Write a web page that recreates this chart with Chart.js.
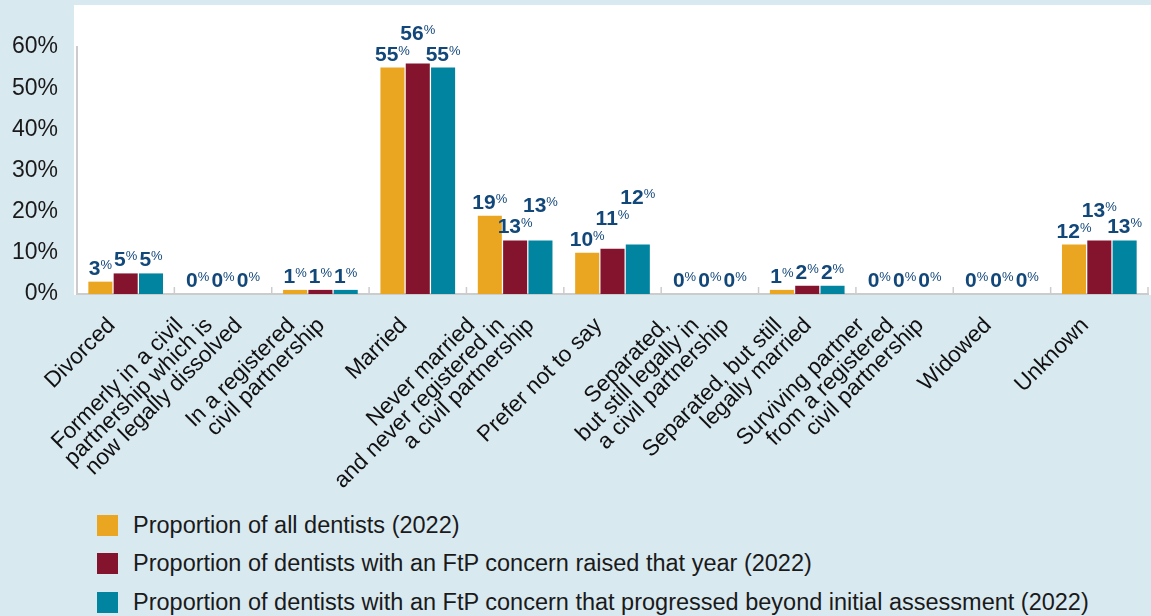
<!DOCTYPE html>
<html lang="en">
<head>
    <meta charset="UTF-8">
    <title>Marital status of dentists (2022)</title>
    <script src="https://cdn.jsdelivr.net/npm/chart.js"></script>
    <style>
        body {
            margin: 0;
            width: 1151px;
            height: 616px;
            overflow: hidden;
            background: #d9e9f0;
            font-family: "Liberation Sans", Arial, sans-serif;
        }
        #wrap {
            position: absolute;
            left: 0;
            top: 0;
            width: 1151px;
            height: 500px;
        }
        #legend {
            position: absolute;
            left: 97px;
            top: 506px;
        }
        .item {
            display: flex;
            align-items: center;
            height: 38.5px;
            font-size: 23.5px;
            color: #1a1a1a;
            white-space: nowrap;
        }
        .box {
            width: 21px;
            height: 21px;
            margin-right: 15px;
            flex: none;
        }
    </style>
</head>
<body>
    <div id="wrap"><canvas id="chart" width="1151" height="500"></canvas></div>
    <div id="legend"></div>
<script>
    // categories, one array of lines per label
    const categories = [
        ['Divorced'],
        ['Formerly in a civil', 'partnership which is', 'now legally dissolved'],
        ['In a registered', 'civil partnership'],
        ['Married'],
        ['Never married', 'and never registered in', 'a civil partnership'],
        ['Prefer not to say'],
        ['Separated,', 'but still legally in', 'a civil partnership'],
        ['Separated, but still', 'legally married'],
        ['Surviving partner', 'from a registered', 'civil partnership'],
        ['Widowed'],
        ['Unknown']
    ];

    // % values
    const allDentists   = [3, 0, 1, 55, 19, 10, 0, 1, 0, 0, 12];
    const ftpRaised     = [5, 0, 1, 56, 13, 11, 0, 2, 0, 0, 13];
    const ftpProgressed = [5, 0, 1, 55, 13, 12, 0, 2, 0, 0, 13];

    const seriesNames = [
        'Proportion of all dentists (2022)',
        'Proportion of dentists with an FtP concern raised that year (2022)',
        'Proportion of dentists with an FtP concern that progressed beyond initial assessment (2022)'
    ];
    const seriesColors = ['#eaa521', '#84142e', '#00849f'];

    const yMin = 0, yMax = 60, yStep = 10;

    const FONT = '"Liberation Sans", Arial, sans-serif';
    Chart.defaults.font.family = FONT;

    // white panel behind the plot
    const panel = {
        id: 'panel',
        beforeDraw(chart) {
            const c = chart.ctx, a = chart.chartArea;
            c.save();
            c.fillStyle = '#ffffff';
            c.fillRect(a.left - 3, 5, chart.width - a.left + 3, a.bottom - 4);
            c.restore();
        }
    };

    // little ticks between the groups, pointing up
    const groupTicks = {
        id: 'groupTicks',
        afterDatasetsDraw(chart) {
            const c = chart.ctx, a = chart.chartArea;
            const n = chart.data.labels.length;
            const w = (a.right - a.left) / n;
            c.save();
            c.strokeStyle = '#cccccc';
            c.lineWidth = 1.5;
            for (let i = 1; i <= n; i++) {
                let x = a.left + i * w;
                c.beginPath();
                c.moveTo(x, a.bottom - 7);
                c.lineTo(x, a.bottom);
                c.stroke();
            }
            c.restore();
        }
    };

    // value labels with small superscript %; bumped up when they collide
    const valueLabels = {
        id: 'valueLabels',
        afterDatasetsDraw(chart) {
            const c = chart.ctx;
            const n = chart.data.labels.length;
            const capH = 16;
            c.save();
            c.fillStyle = '#12477a';
            c.textAlign = 'left';
            c.textBaseline = 'alphabetic';
            for (let i = 0; i < n; i++) {
                let placed = [];
                chart.data.datasets.forEach((ds, j) => {
                    let bar = chart.getDatasetMeta(j).data[i];
                    let num = String(ds.data[i]);
                    c.font = 'bold 21px ' + FONT;
                    let wn = c.measureText(num).width;
                    c.font = '13px ' + FONT;
                    let wp = c.measureText('%').width;
                    let left = bar.x - (wn + wp) / 2;
                    let right = left + wn + wp;
                    let base = bar.y - 7;
                    let moved = true;
                    while (moved) {
                        moved = false;
                        for (const p of placed) {
                            if (left < p.right - 1 && right > p.left + 1 && base > p.top && base - capH < p.base) {
                                base = p.top - 5;
                                moved = true;
                            }
                        }
                    }
                    placed.push({left: left, right: right, top: base - capH, base: base});
                    c.font = 'bold 21px ' + FONT;
                    c.fillText(num, left, base);
                    c.font = '13px ' + FONT;
                    c.fillText('%', left + wn, base - 6);
                });
            }
            c.restore();
        }
    };

    // rotated category labels, each line ends on the same horizontal line
    const xLabels = {
        id: 'xLabels',
        afterDraw(chart) {
            const c = chart.ctx;
            const xs = chart.scales.x;
            const lh = 21;
            c.save();
            c.fillStyle = '#111111';
            c.font = '22.5px ' + FONT;
            c.textAlign = 'right';
            c.textBaseline = 'top';
            chart.data.labels.forEach((lines, i) => {
                let cx = xs.getPixelForValue(i);
                let n = lines.length;
                lines.forEach((line, k) => {
                    let ax = cx - 22 + (k - (n - 1) / 2) * lh * Math.SQRT2;
                    c.save();
                    c.translate(ax, 314);
                    c.rotate(-Math.PI / 4);
                    c.fillText(line, 0, 0);
                    c.restore();
                });
            });
            c.restore();
        }
    };

    const chart = new Chart(document.getElementById('chart'), {
        type: 'bar',
        data: {
            labels: categories,
            datasets: [allDentists, ftpRaised, ftpProgressed].map((vals, j) => ({
                label: seriesNames[j],
                data: vals,
                backgroundColor: seriesColors[j],
                borderWidth: 0,
                categoryPercentage: 0.78,
                barPercentage: 0.95
            }))
        },
        options: {
            responsive: false,
            animation: false,
            layout: { padding: { top: 47, right: 3, bottom: 206, left: 0 } },
            plugins: {
                legend: { display: false },
                tooltip: { enabled: false }
            },
            scales: {
                x: {
                    grid: { display: false, drawTicks: false },
                    ticks: { display: false },
                    border: { display: true, color: '#cccccc', width: 2 },
                    afterFit: s => { s.height = 0; }
                },
                y: {
                    min: yMin,
                    max: yMax,
                    grid: { display: false, drawTicks: false },
                    border: { display: true, color: '#cccccc', width: 2 },
                    ticks: {
                        stepSize: yStep,
                        padding: 19,
                        color: '#1a1a1a',
                        font: { size: 23 },
                        callback: v => v + '%'
                    },
                    afterFit: s => { s.width = 77; }
                }
            }
        },
        plugins: [panel, groupTicks, valueLabels, xLabels]
    });

    // legend
    const lg = document.getElementById('legend');
    seriesNames.forEach((name, j) => {
        let row = document.createElement('div');
        row.className = 'item';
        let b = document.createElement('span');
        b.className = 'box';
        b.style.background = seriesColors[j];
        let t = document.createElement('span');
        t.textContent = name;
        row.appendChild(b);
        row.appendChild(t);
        lg.appendChild(row);
    });
</script>
</body>
</html>
